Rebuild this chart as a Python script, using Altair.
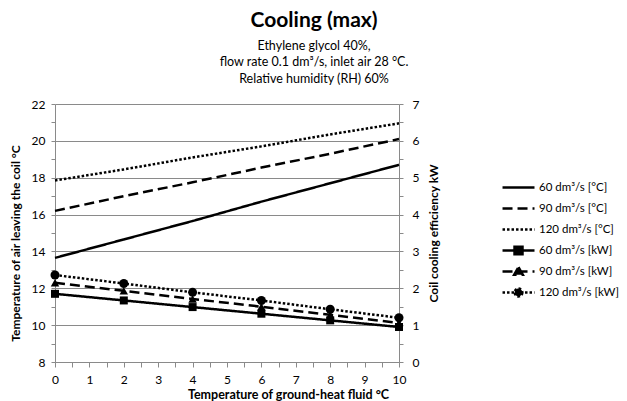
import altair as alt
import pandas as pd

x_vals = [0, 2, 4, 6, 8, 10]
temp_60 = [13.65, 14.65, 15.65, 16.7, 17.7, 18.7]
temp_90 = [16.2, 17.0, 17.75, 18.55, 19.3, 20.1]
temp_120 = [17.85, 18.45, 19.1, 19.7, 20.35, 20.95]
kw_60 = [1.85, 1.67, 1.49, 1.31, 1.13, 0.95]
kw_90 = [2.15, 1.93, 1.71, 1.50, 1.28, 1.06]
kw_120 = [2.36, 2.13, 1.89, 1.67, 1.43, 1.20]

temp_names = ["60 dm³/s [°C]", "90 dm³/s [°C]", "120 dm³/s [°C]"]
kw_names = ["60 dm³/s [kW]", "90 dm³/s [kW]", "120 dm³/s [kW]"]
all_names = temp_names + kw_names
kw_shapes = ["square", "triangle-up", "circle"]
kw_sizes = [64, 72, 81]

x_ticks = [i * 0.5 for i in range(21)]
y_left_ticks = list(range(8, 23))
y_right_ticks = [i * 0.5 for i in range(15)]

FONT = "Lato"
GRAY = "#8a8a8a"

temp_rows = []
for name, vals in zip(temp_names, [temp_60, temp_90, temp_120]):
    for xv, v in zip(x_vals, vals):
        temp_rows.append({"x": xv, "value": v, "series": name})
temp_df = pd.DataFrame(temp_rows)

kw_rows = []
for name, vals in zip(kw_names, [kw_60, kw_90, kw_120]):
    for xv, v in zip(x_vals, vals):
        kw_rows.append({"x": xv, "value": v, "series": name})
kw_df = pd.DataFrame(kw_rows)

legend_df = pd.DataFrame({"series": all_names})

solid = [1, 0]
dashed = [10, 5]
dotted = [2.5, 2]
dash_list = [solid, dashed, dotted]
dash_scale = alt.Scale(domain=all_names, range=dash_list + dash_list)

x_enc = alt.X(
    "x:Q",
    scale=alt.Scale(domain=[0, 10], nice=False, zero=False),
    axis=alt.Axis(
        values=x_ticks,
        labelExpr="datum.value % 1 === 0 ? '' + datum.value : ''",
        labelOverlap=False,
        labelFlush=False,
        grid=False,
        tickSize=5,
        tickColor=GRAY,
        domainColor=GRAY,
        labelFont=FONT,
        labelFontSize=12,
        labelColor="#000000",
        labelPadding=7,
        title="Temperature of ground-heat fluid °C",
        titleFont=FONT,
        titleFontSize=12.5,
        titleFontWeight="bold",
        titleColor="#000000",
        titlePadding=3,
        titleX=233,
        titleAlign="center",
    ),
)

left_axis = alt.Axis(
    values=y_left_ticks,
    labelExpr="datum.value % 2 === 0 ? '' + datum.value : ''",
    labelOverlap=False,
    labelFlush=False,
    grid=True,
    gridColor=GRAY,
    gridOpacity={"condition": {"test": "datum.value % 2 === 0", "value": 1}, "value": 0},
    tickSize=4,
    tickColor=GRAY,
    domainColor=GRAY,
    labelFont=FONT,
    labelFontSize=12,
    labelColor="#000000",
    labelPadding=6,
    title="Temperature of air leaving the coil °C",
    titleFont=FONT,
    titleFontSize=12,
    titleFontWeight="bold",
    titleColor="#000000",
    titlePadding=9,
    titleY=139,
    titleAlign="center",
)

right_axis = alt.Axis(
    orient="right",
    values=y_right_ticks,
    labelExpr="datum.value % 1 === 0 ? '' + datum.value : ''",
    labelOverlap=False,
    labelFlush=False,
    grid=False,
    tickSize=4,
    tickColor=GRAY,
    domainColor=GRAY,
    labelFont=FONT,
    labelFontSize=12,
    labelColor="#000000",
    labelPadding=9,
    title="Coil cooling efficiency kW",
    titleFont=FONT,
    titleFontSize=12,
    titleFontWeight="bold",
    titleColor="#000000",
    titleAngle=270,
    titlePadding=22,
)

y_left = alt.Y("value:Q", scale=alt.Scale(domain=[8, 22], nice=False, zero=False), axis=left_axis)
kw_y = alt.Y("value:Q", scale=alt.Scale(domain=[0, 7], nice=False, zero=False), axis=right_axis)

temp_layers = []
for name, dash in zip(temp_names, dash_list):
    temp_layers.append(
        alt.Chart(temp_df)
        .transform_filter(alt.datum.series == name)
        .mark_line(color="black", strokeWidth=2.5, strokeCap="butt", strokeDash=dash)
        .encode(x=x_enc, y=y_left)
    )
temp_group = alt.layer(*temp_layers)

kw_layers = []
for name, dash in zip(kw_names, dash_list):
    kw_layers.append(
        alt.Chart(kw_df)
        .transform_filter(alt.datum.series == name)
        .mark_line(color="black", strokeWidth=2.5, strokeCap="butt", strokeDash=dash)
        .encode(x=x_enc, y=kw_y)
    )
for name, shp, sz in zip(kw_names, kw_shapes, kw_sizes):
    kw_layers.append(
        alt.Chart(kw_df)
        .transform_filter(alt.datum.series == name)
        .mark_point(filled=True, color="black", opacity=1, shape=shp, size=sz)
        .encode(x=x_enc, y=kw_y)
    )
kw_group = alt.layer(*kw_layers)

line_path = "M0,-0.91M0,0.91M-4.33,0L1,0"
legend_paths = [
    line_path,
    line_path,
    line_path,
    line_path + "M-2.33,-0.62L-1,-0.62L-1,0.62L-2.33,0.62Z",
    line_path + "M-1.67,-0.72L-0.95,0.55L-2.39,0.55Z",
    line_path + "M-1.02,0A0.65,0.65,0,1,1,-2.32,0A0.65,0.65,0,1,1,-1.02,0Z",
]

legend_props = dict(
    title=None,
    orient="none",
    legendX=466,
    legendY=76,
    labelFont=FONT,
    labelFontSize=11.5,
    labelColor="#000000",
    labelOffset=3,
    symbolSize=144,
    symbolStrokeWidth=2.5,
    rowPadding=0,
    labelLimit=120,
)

legend_layer = alt.Chart(legend_df).transform_filter("false").mark_point(
    filled=False, fill="black", stroke="black", strokeWidth=2.5, opacity=1, size=144
).encode(
    shape=alt.Shape(
        "series:N",
        scale=alt.Scale(domain=all_names, range=legend_paths),
        legend=alt.Legend(**legend_props),
    ),
    strokeDash=alt.StrokeDash(
        "series:N",
        scale=dash_scale,
        legend=alt.Legend(**legend_props),
    ),
)

chart = alt.layer(temp_group, kw_group, legend_layer).resolve_scale(
    y="independent"
).properties(
    width=344,
    height=258,
    padding={"left": 1, "top": 1, "right": 0, "bottom": 0},
    title=alt.TitleParams(
        text="Cooling (max)",
        subtitle=["Ethylene glycol 40%,", "flow rate 0.1 dm³/s, inlet air 28 °C.", "Relative humidity (RH) 60%"],
        font=FONT,
        fontSize=21,
        fontWeight="bold",
        color="#000000",
        subtitleFont=FONT,
        subtitleFontSize=12.5,
        subtitleColor="#000000",
        subtitleLineHeight=16.5,
        subtitlePadding=9,
        anchor="middle",
        frame="bounds",
        offset=13,
    ),
).configure_view(stroke=None)

chart.save("out.html", embed_options={"renderer": "svg", "actions": False})
